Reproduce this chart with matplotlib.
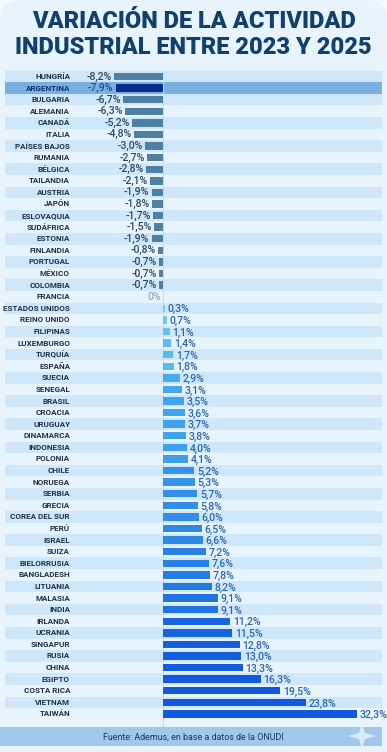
import matplotlib
matplotlib.use("Agg")
import matplotlib.pyplot as plt
from matplotlib.colors import LinearSegmentedColormap
from matplotlib.patches import FancyBboxPatch, Rectangle, Polygon
from matplotlib.transforms import blended_transform_factory

# ---------------------------------------------------------------------------
# Data
# ---------------------------------------------------------------------------
COUNTRIES = [
    "HUNGRÍA", "ARGENTINA", "BULGARIA", "ALEMANIA", "CANADÁ", "ITALIA",
    "PAÍSES BAJOS", "RUMANIA", "BÉLGICA", "TAILANDIA", "AUSTRIA", "JAPÓN",
    "ESLOVAQUIA", "SUDÁFRICA", "ESTONIA", "FINLANDIA", "PORTUGAL", "MÉXICO",
    "COLOMBIA", "FRANCIA", "ESTADOS UNIDOS", "REINO UNIDO", "FILIPINAS",
    "LUXEMBURGO", "TURQUÍA", "ESPAÑA", "SUECIA", "SENEGAL", "BRASIL",
    "CROACIA", "URUGUAY", "DINAMARCA", "INDONESIA", "POLONIA", "CHILE",
    "NORUEGA", "SERBIA", "GRECIA", "COREA DEL SUR", "PERÚ", "ISRAEL",
    "SUIZA", "BIELORRUSIA", "BANGLADESH", "LITUANIA", "MALASIA", "INDIA",
    "IRLANDA", "UCRANIA", "SINGAPUR", "RUSIA", "CHINA", "EGIPTO",
    "COSTA RICA", "VIETNAM", "TAIWÁN",
]
VALUES = [
    -8.2, -7.9, -6.7, -6.3, -5.2, -4.8, -3.0, -2.7, -2.8, -2.1, -1.9, -1.8,
    -1.7, -1.5, -1.9, -0.8, -0.7, -0.7, -0.7, 0.0, 0.3, 0.7, 1.1, 1.4, 1.7,
    1.8, 2.9, 3.1, 3.5, 3.6, 3.7, 3.8, 4.0, 4.1, 5.2, 5.3, 5.7, 5.8, 6.0,
    6.5, 6.6, 7.2, 7.6, 7.8, 8.2, 9.1, 9.1, 11.2, 11.5, 12.8, 13.0, 13.3,
    16.3, 19.5, 23.8, 32.3,
]
HIGHLIGHT = "ARGENTINA"

TITLE_1 = "VARIACIÓN DE LA ACTIVIDAD"
TITLE_2 = "INDUSTRIAL ENTRE 2023 Y 2025"
SOURCE = "Fuente: Ademus, en base a datos de la ONUDI"

# ---------------------------------------------------------------------------
# Styles
# ---------------------------------------------------------------------------
W, H = 387, 752
BG = "#e7f4fd"
STRIPE = "#cfe7f9"
HL_ROW = "#79b0e1"
NEG_BAR = "#4f7fa3"
HL_BAR = "#0b2c8e"
NAVY = "#123f6b"
POS_CMAP = LinearSegmentedColormap.from_list(
    "pos", ["#74d2f3", "#45acee", "#3390e8", "#2378e4", "#1864e0", "#1359de"])

plt.rcParams["font.family"] = ["Roboto", "DejaVu Sans"]

fig = plt.figure(figsize=(W / 100, H / 100), dpi=100)
fig.patch.set_facecolor("#f4faff")
fig.patches.append(FancyBboxPatch(
    (0.0, -0.05), 1.0, 1.05, boxstyle="round,pad=0,rounding_size=0.05",
    transform=fig.transFigure, facecolor=BG, edgecolor="none",
    mutation_aspect=W / H, zorder=-2))

# title
fig.text(0.5, 1 - 22 / H, TITLE_1, ha="center", va="center", fontsize=17,
         fontweight="black", color=NAVY)
fig.text(0.5, 1 - 47 / H, TITLE_2, ha="center", va="center", fontsize=17,
         fontweight="black", color=NAVY)

# axes: zero at x=163px, 6 px per point
left_px, right_px, zero_px, ppu = 5, 382, 163, 6.0
top_px, row_px = 70.7, 11.59
n = len(COUNTRIES)
bottom_px = top_px + n * row_px
ax = fig.add_axes([left_px / W, 1 - bottom_px / H,
                   (right_px - left_px) / W, n * row_px / H])
ax.set_zorder(1)
ax.set_facecolor("none")
ax.set_xlim(-(zero_px - left_px) / ppu, (right_px - zero_px) / ppu)
ax.set_ylim(n - 0.5, -0.5)
ax.axis("off")

lab_tr = blended_transform_factory(ax.transAxes, ax.transData)
lab_x = (70 - left_px) / (right_px - left_px)

for i, (name, v) in enumerate(zip(COUNTRIES, VALUES)):
    hl = name == HIGHLIGHT
    if hl:
        ax.axhspan(i - 0.5, i + 0.5, color=HL_ROW, lw=0, zorder=0)
    elif i % 2 == 0:
        ax.axhspan(i - 0.5, i + 0.5, color=STRIPE, lw=0, zorder=0)

    ax.text(lab_x, i, name, transform=lab_tr, ha="right", va="center",
            fontsize=5.8, fontweight="bold",
            color="#0e2f6e" if hl else "#1f3248")

    txt = ("0%" if v == 0 else f"{v:.1f}".replace(".", ",") + "%")
    if v < 0:
        ax.barh(i, v, height=0.64, color=HL_BAR if hl else NEG_BAR, zorder=2)
        ax.text(v - 0.35, i, txt, ha="right", va="center", fontsize=7.6,
                fontweight="medium", color="#1c4fa0" if hl else "#2c4a68")
    elif v > 0:
        c = POS_CMAP(min(v / 14.0, 1.0))
        ax.barh(i, v, height=0.64, color=c, zorder=2)
        ax.text(v + 0.45, i + 0.1, txt, ha="left", va="center", fontsize=7.6,
                fontweight="medium", color="#2a66b0")
    else:
        ax.text(-0.3, i, txt, ha="right", va="center", fontsize=7.6,
                color="#8b9aa8")

ax.axvline(0, ymin=-0.01, ymax=1.0, color="#c9d8e3", lw=0.7, zorder=1,
           clip_on=False)

# footer band
fig.patches.append(Rectangle((0, 1 - 746 / H), 382 / W, 19 / H,
                             transform=fig.transFigure, facecolor="#9fc8ec",
                             edgecolor="none", zorder=-1))
fig.text(193 / W, 1 - 737 / H, SOURCE, ha="center", va="center",
         fontsize=6.4, color="#1e3552", zorder=3)
# small sparkle decoration
cx, cy, r1, r2 = 362, 736, 14, 3
pts = [(cx, cy - r1), (cx + r2, cy - r2), (cx + r1, cy), (cx + r2, cy + r2),
       (cx, cy + r1), (cx - r2, cy + r2), (cx - r1, cy), (cx - r2, cy - r2)]
fig.patches.append(Polygon([(x / W, 1 - y / H) for x, y in pts],
                           transform=fig.transFigure, facecolor="#e9f3fc",
                           edgecolor="none", alpha=0.8, zorder=-1))

fig.savefig("out.png", dpi=100, facecolor=fig.get_facecolor())
